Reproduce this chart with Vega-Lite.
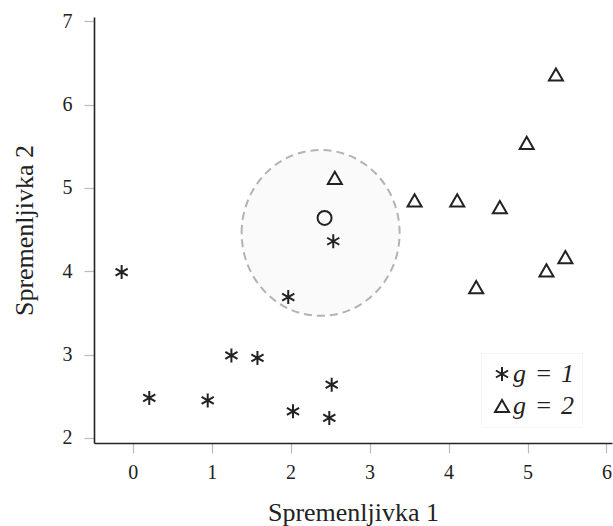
{
  "$schema": "https://vega.github.io/schema/vega-lite/v6.json",
  "width": 518,
  "height": 426,
  "autosize": {"type": "none"},
  "padding": {"left": 94, "top": 17, "right": 1, "bottom": 83},
  "background": "white",
  "config": {
    "view": {"stroke": null},
    "font": "Liberation Serif",
    "axis": {
      "grid": false,
      "domainColor": "#222222",
      "domainWidth": 1.6,
      "tickColor": "#bbbbbb",
      "tickSize": 10,
      "tickWidth": 1.2,
      "labelFont": "Liberation Serif",
      "labelFontSize": 20,
      "labelColor": "#222222",
      "labelFlush": false,
      "format": "d",
      "titleFont": "Liberation Serif",
      "titleFontSize": 26,
      "titleFontWeight": "normal",
      "titleColor": "#222222"
    }
  },
  "datasets": {
    "pts": [
      {"x": -0.14, "y": 3.99, "g": 1},
      {"x": 0.21, "y": 2.48, "g": 1},
      {"x": 0.95, "y": 2.45, "g": 1},
      {"x": 1.25, "y": 2.99, "g": 1},
      {"x": 1.58, "y": 2.96, "g": 1},
      {"x": 2.03, "y": 2.32, "g": 1},
      {"x": 1.97, "y": 3.69, "g": 1},
      {"x": 2.52, "y": 2.64, "g": 1},
      {"x": 2.49, "y": 2.24, "g": 1},
      {"x": 2.54, "y": 4.36, "g": 1},
      {"x": 2.56, "y": 5.12, "g": 2},
      {"x": 3.57, "y": 4.85, "g": 2},
      {"x": 4.11, "y": 4.85, "g": 2},
      {"x": 4.65, "y": 4.77, "g": 2},
      {"x": 4.99, "y": 5.54, "g": 2},
      {"x": 5.36, "y": 6.36, "g": 2},
      {"x": 4.35, "y": 3.81, "g": 2},
      {"x": 5.24, "y": 4.01, "g": 2},
      {"x": 5.48, "y": 4.17, "g": 2}
    ],
    "newpt": [{"x": 2.43, "y": 4.64}],
    "region": [{"x": 2.38, "y": 4.46}]
  },
  "layer": [
    {
      "data": {"name": "region"},
      "mark": {
        "type": "point",
        "shape": "M-1,0A1,1.05,0,1,1,1,0A1,1.05,0,1,1,-1,0Z",
        "size": 24964,
        "filled": true,
        "fill": "#fafafa",
        "fillOpacity": 1,
        "stroke": "#b3b3b3",
        "strokeWidth": 2,
        "strokeDash": [8, 5],
        "opacity": 1
      },
      "encoding": {
        "x": {"field": "x", "type": "quantitative", "scale": {"domain": [-0.49, 6.07], "nice": false, "zero": false},
              "axis": {"values": [0, 1, 2, 3, 4, 5, 6], "title": "Spremenljivka 1", "labelPadding": 9, "titlePadding": 17}},
        "y": {"field": "y", "type": "quantitative", "scale": {"domain": [1.94, 7.05], "nice": false, "zero": false},
              "axis": {"values": [2, 3, 4, 5, 6, 7], "title": "Spremenljivka 2", "labelPadding": 12, "titlePadding": 25}}
      }
    },
    {
      "data": {"name": "pts"},
      "mark": {"type": "point", "filled": false, "strokeWidth": 2, "size": 196, "opacity": 1, "color": "#222222"},
      "encoding": {
        "x": {"field": "x", "type": "quantitative"},
        "y": {"field": "y", "type": "quantitative"},
        "shape": {
          "field": "g", "type": "nominal",
          "scale": {"domain": [1, 2], "range": ["M0,-1L0,1M-0.87,-0.5L0.87,0.5M-0.87,0.5L0.87,-0.5", "triangle-up"]},
          "legend": {
            "orient": "none", "legendX": 387, "legendY": 336, "title": null,
            "labelExpr": "'g\u2004=\u2004' + datum.label",
            "labelFont": "Liberation Serif", "labelFontSize": 26, "labelFontStyle": "italic", "labelColor": "#222222",
            "symbolSize": 196, "symbolStrokeWidth": 2, "symbolStrokeColor": "#222222", "symbolFillColor": "transparent",
            "fillColor": "white", "strokeColor": "#f6f6f6", "padding": 8, "rowPadding": 6, "labelOffset": -2
          }
        }
      }
    },
    {
      "data": {"name": "newpt"},
      "mark": {"type": "point", "shape": "circle", "filled": false, "strokeWidth": 2, "size": 196, "opacity": 1, "color": "#222222"},
      "encoding": {
        "x": {"field": "x", "type": "quantitative"},
        "y": {"field": "y", "type": "quantitative"}
      }
    }
  ]
}
